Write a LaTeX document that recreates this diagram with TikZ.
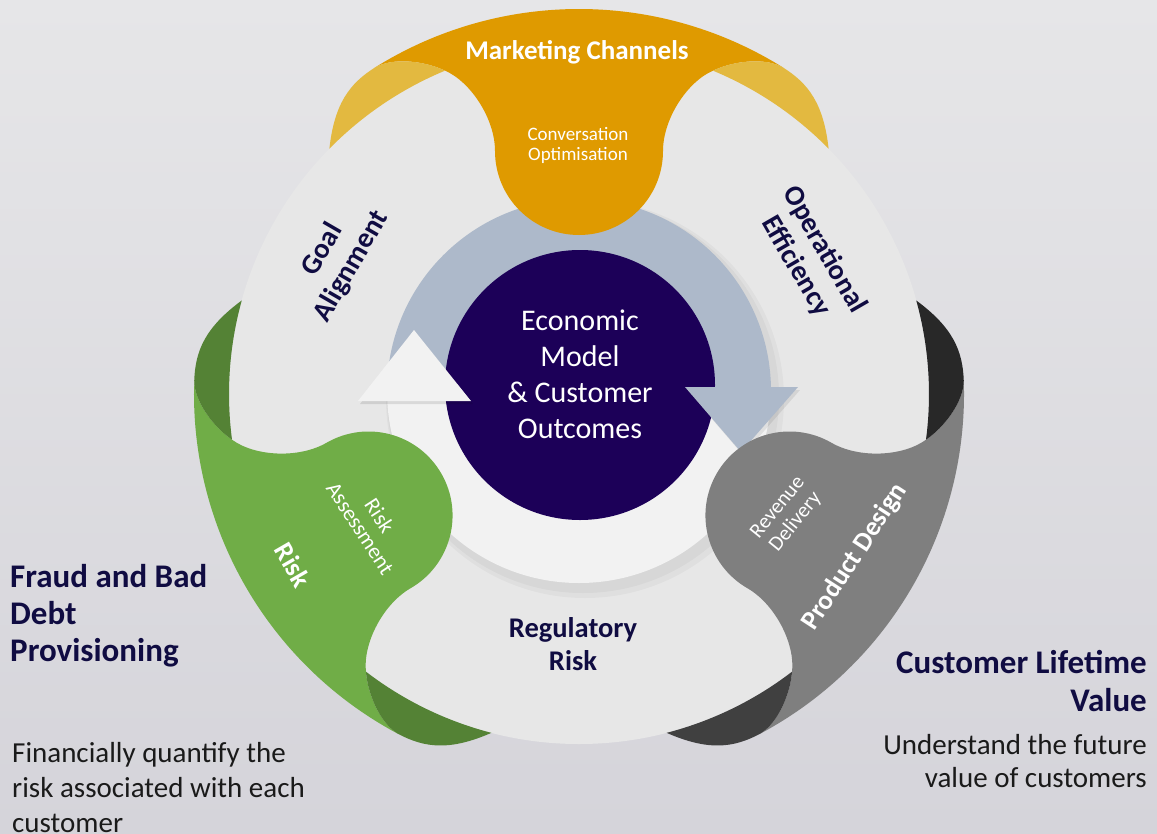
\documentclass[tikz,border=0pt]{standalone}
\usepackage{fontspec}
\setmainfont{Carlito}
\definecolor{bgtop}{HTML}{E6E6E8}
\definecolor{bgbot}{HTML}{D5D4DA}
\definecolor{discc}{HTML}{E7E7E7}
\definecolor{wband}{HTML}{F2F2F2}
\definecolor{bband}{HTML}{ADB9CA}
\definecolor{purp}{HTML}{1C0058}
\definecolor{orM}{HTML}{DF9A00}
\definecolor{orE}{HTML}{E3B940}
\definecolor{grM}{HTML}{70AD47}
\definecolor{grE}{HTML}{548235}
\definecolor{gyM}{HTML}{7F7F7F}
\definecolor{gyT}{HTML}{282828}
\definecolor{gyB}{HTML}{404040}
\definecolor{navy}{HTML}{100C42}
\definecolor{body}{HTML}{1A1A1A}
\tikzset{
  pics/petal/.style n args={3}{code={
    \fill[#1] (122:385) arc[start angle=122,end angle=58,radius=385]
      .. controls (186,337) and (154,333) .. (67.5:350)
      .. controls (108,312) and (84,275) .. (84,243)
      arc[start angle=0,end angle=-180,radius=84]
      .. controls (-84,275) and (-108,312) .. (112.5:350)
      .. controls (-154,333) and (-186,337) .. (122:385) -- cycle;
    \fill[#2] (135.5:350) .. controls (-244.6,290.4) and (-229.4,310.6) .. (122:385)
      .. controls (-186,337) and (-154,333) .. (112.5:350)
      arc[start angle=112.5,end angle=135.5,radius=350] -- cycle;
    \fill[#3] (44.5:350) .. controls (244.6,290.4) and (229.4,310.6) .. (58:385)
      .. controls (186,337) and (154,333) .. (67.5:350)
      arc[start angle=67.5,end angle=44.5,radius=350] -- cycle;
  }},
  head/.style={font=\fontsize{28.5}{33}\selectfont\bfseries, text=navy, align=center, inner sep=0pt},
  whitehead/.style={font=\fontsize{27}{32}\selectfont\bfseries, text=white, align=center, inner sep=0pt},
  small/.style={font=\fontsize{19}{20}\selectfont, text=white, align=center, inner sep=0pt},
  smallrot/.style={font=\fontsize{22}{23}\selectfont, text=white, align=center, inner sep=0pt},
  side/.style={font=\fontsize{33}{37}\selectfont\bfseries, text=navy, inner sep=0pt},
  sideright/.style={font=\fontsize{33}{38}\selectfont\bfseries, text=navy, inner sep=0pt},
  sidebody/.style={font=\fontsize{29}{35}\selectfont, text=body, inner sep=0pt},
  sidebodyright/.style={font=\fontsize{29}{33}\selectfont, text=body, inner sep=0pt},
}
\begin{document}
\begin{tikzpicture}[x=1pt,y=1pt]
\useasboundingbox (0,0) rectangle (1157,-833);
\shade[top color=bgtop,bottom color=bgbot] (0,0) rectangle (1157,-833);
\coordinate (C) at (579,-394);
% light disc
\fill[discc] (C) circle[radius=350];
% soft shadow of the ring
\fill[black,opacity=0.035] (583,-397) circle[radius=196];
\fill[black,opacity=0.03] (585,-399) circle[radius=199];
% white band (lower half)
\fill[wband] (387,-391) arc[start angle=180,end angle=360,radius=192]
  -- (699,-391) arc[start angle=360,end angle=180,radius=120] -- cycle;
% blue band (upper half)
\fill[bband] (387,-391) arc[start angle=180,end angle=0,radius=192]
  -- (699,-391) arc[start angle=0,end angle=180,radius=120] -- cycle;
% centre disc
\fill[purp] (580,-385) circle[radius=135];
\node[font=\fontsize{30}{36}\selectfont, text=white, align=center] (centre) at (580,-374)
  {Economic\\Model\\\& Customer\\Outcomes};
% arrowheads
\fill[black,opacity=0.10] (360,-404) -- (416,-333) -- (473,-404) -- cycle;
\fill[wband] (358,-401) -- (414,-330) -- (471,-401) -- cycle;
\fill[black,opacity=0.08] (687,-390) -- (800,-390) -- (743,-455) -- cycle;
\fill[bband] (685,-387) -- (798,-387) -- (741,-452) -- cycle;
% petals
\pic at (C) {petal={orM}{orE}{orE}};
\pic[rotate=120] at (C) {petal={grM}{grE}{grE}};
\pic[rotate=-120] at (C) {petal={gyM}{gyT}{gyB}};
% labels on petals
\node[whitehead] (mc) at (577,-52) {Marketing Channels};
\node[small] (co) at (578,-145) {Conversation\\Optimisation};
\node[whitehead, rotate=-60] (risk) at (293,-565) {Risk};
\node[smallrot, rotate=-57] (ra) at (370,-522) {Risk\\Assessment};
\node[whitehead, rotate=57] (pd) at (855,-557) {Product Design};
\node[smallrot, font=\fontsize{21}{23}\selectfont, rotate=51] (rd) at (787,-515) {Revenue\\Delivery};
% labels on the light ring
\node[head, rotate=60] (ga) at (337,-258) {Goal\\Alignment};
\node[head, rotate=-60] (oe) at (810,-258) {Operational\\Efficiency};
\node[head] (rr) at (573,-644) {Regulatory\\Risk};
% side texts
\node[side, anchor=north west, align=left] (fraud) at (10,-564) {Fraud and Bad\\Debt\\Provisioning};
\node[sidebody, anchor=north west, align=left] (fin) at (12,-742) {Financially quantify the\\risk associated with each\\customer};
\node[sideright, anchor=north east, align=right] (clv) at (1147,-650) {Customer Lifetime\\Value};
\node[sidebodyright, anchor=north east, align=right] (und) at (1147,-734) {Understand the future\\value of customers};
\end{tikzpicture}
\end{document}
